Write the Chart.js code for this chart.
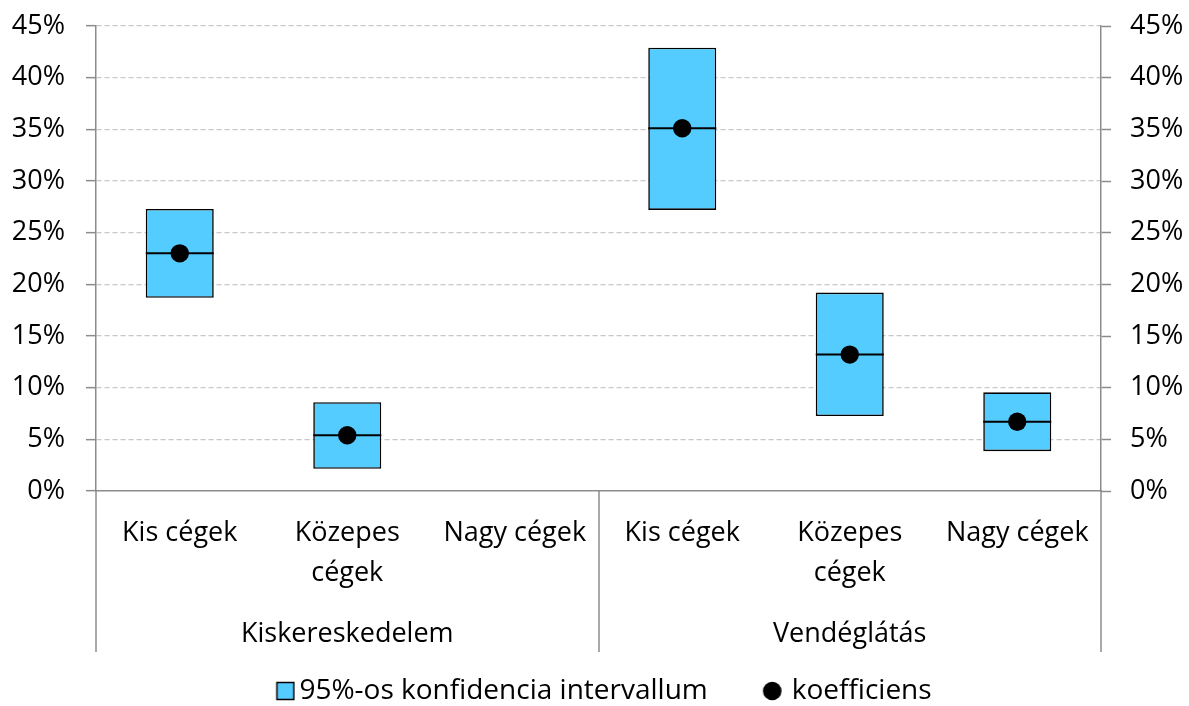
<!DOCTYPE html>
<html>
<head>
<meta charset="utf-8">
<script src="https://cdn.jsdelivr.net/npm/chart.js@4/dist/chart.umd.min.js"></script>
<style>
html,body{margin:0;padding:0;background:#fff;}
#wrap{width:1189px;height:706px;position:relative;}
</style>
</head>
<body>
<div id="wrap"><canvas id="c" width="1189" height="706"></canvas></div>
<script>
const categories = [["Kis cégek"], ["Közepes", "cégek"], ["Nagy cégek"], ["Kis cégek"], ["Közepes", "cégek"], ["Nagy cégek"]];
const groups = ["Kiskereskedelem", "Vendéglátás"];
const ciLow  = [18.7, 2.15, null, 27.2, 7.25, 3.85];
const ciHigh = [27.3, 8.6,  null, 42.9, 19.2, 9.55];
const coef   = [23.0, 5.4,  null, 35.1, 13.2, 6.7];
const yTicks = [0, 5, 10, 15, 20, 25, 30, 35, 40, 45];
const seriesNames = ["95%-os konfidencia intervallum", "koefficiens"];

const FONT = "'Open Sans', sans-serif";
const AXIS = '#8c8c8c';
const FILL = '#55CCFF';

const ranges = ciLow.map((l, i) => (l === null ? null : [l, ciHigh[i]]));

// legend markers (drawn offset inside wider images to match spacing)
const dot = document.createElement('canvas');
dot.width = 54; dot.height = 20;
(function(){ const g = dot.getContext('2d'); g.fillStyle = '#000'; g.beginPath(); g.arc(43.5, 10, 9.3, 0, Math.PI*2); g.fill(); })();
const sq = document.createElement('canvas');
sq.width = 64; sq.height = 20;
(function(){ const g = sq.getContext('2d'); g.fillStyle = FILL; g.fillRect(45.5,1.5,17,17); g.strokeStyle = '#000'; g.lineWidth = 1.5; g.strokeRect(45.5,1.5,17,17); })();

const groupLines = {
  id: 'groupLines',
  afterDraw(chart) {
    const x = chart.scales.x, x2 = chart.scales.x2, ctx = chart.ctx;
    const n = categories.length, per = n / groups.length;
    const xs = [x.left, x.right];
    for (let g = 1; g < groups.length; g++) {
      xs.push((x.getPixelForValue(g*per - 1) + x.getPixelForValue(g*per)) / 2);
    }
    ctx.save();
    ctx.strokeStyle = AXIS; ctx.lineWidth = 1.5;
    xs.forEach(px => {
      const p = Math.round(px);
      ctx.beginPath(); ctx.moveTo(p, chart.chartArea.bottom); ctx.lineTo(p, x2.top + 60); ctx.stroke();
    });
    ctx.restore();
  }
};

function noPad(s) { s.paddingTop = 0; s.paddingBottom = 0; s.paddingLeft = 0; s.paddingRight = 0; }

new Chart(document.getElementById('c'), {
  data: {
    labels: categories,
    datasets: [
      {
        type: 'bar', label: seriesNames[0], data: ranges,
        backgroundColor: FILL, borderColor: '#000', borderWidth: 1.6, borderSkipped: false,
        barPercentage: 0.406, categoryPercentage: 1, order: 3
      },
      {
        type: 'line', label: 'mid', data: coef, showLine: false,
        pointStyle: 'line', pointRadius: 34, pointBorderWidth: 2, borderColor: '#000',
        pointHoverRadius: 34, order: 2
      },
      {
        type: 'line', label: seriesNames[1], data: coef, showLine: false,
        pointStyle: 'circle', pointRadius: 9.2, backgroundColor: '#000', borderColor: '#000',
        pointBorderWidth: 0, order: 1
      }
    ]
  },
  options: {
    responsive: false, animation: false,
    layout: { autoPadding: false, padding: { top: 26, left: -16, right: 0, bottom: -9 } },
    plugins: {
      tooltip: { enabled: false },
      legend: {
        position: 'bottom',
        labels: {
          font: { family: FONT, size: 28 }, color: '#000',
          usePointStyle: true, pointStyleWidth: 44, boxHeight: 20, padding: 26,
          generateLabels: () => [
            { text: seriesNames[0], pointStyle: sq, fillStyle: FILL, strokeStyle: '#000', lineWidth: 0, datasetIndex: 0, hidden: false },
            { text: seriesNames[1], pointStyle: dot, fillStyle: '#000', strokeStyle: '#000', lineWidth: 0, datasetIndex: 2, hidden: false }
          ]
        }
      }
    },
    scales: {
      x: {
        type: 'category', offset: true,
        grid: { display: false, drawTicks: false },
        border: { display: true, color: AXIS, width: 1.5 },
        ticks: { font: { family: FONT, size: 27, lineHeight: 1.48 }, color: '#000', padding: 22, maxRotation: 0, autoSkip: false },
        afterFit(s) { s.height = 101; noPad(s); }
      },
      x2: {
        type: 'category', labels: groups, offset: true, position: 'bottom',
        grid: { display: false, drawTicks: false },
        border: { display: false },
        ticks: { font: { family: FONT, size: 27, lineHeight: 1.48 }, color: '#000', padding: 22, maxRotation: 0 },
        afterFit(s) { s.height = 59; noPad(s); }
      },
      y: {
        position: 'left', min: 0, max: 45,
        afterBuildTicks(s) { s.ticks = yTicks.map(v => ({ value: v })); },
        grid: {
          color: ctx => (ctx.tick && ctx.tick.value === 0 ? 'rgba(0,0,0,0)' : '#c8c8c8'),
          lineWidth: 1.3, tickLength: 10, tickColor: AXIS, tickWidth: 1.5
        },
        border: { display: true, color: AXIS, width: 1.5, dash: [5, 3] },
        ticks: { font: { family: FONT, size: 27 }, color: '#000', padding: 21, callback: v => v + '%' },
        afterFit(s) { s.width = 112; noPad(s); }
      },
      y2: {
        position: 'right', min: 0, max: 45,
        afterBuildTicks(s) { s.ticks = yTicks.map(v => ({ value: v })); },
        grid: { drawOnChartArea: false, tickLength: 10, tickColor: AXIS, tickWidth: 1.5 },
        border: { display: true, color: AXIS, width: 1.5 },
        ticks: { font: { family: FONT, size: 27 }, color: '#000', padding: 19, callback: v => v + '%' },
        afterFit(s) { s.width = 88; noPad(s); }
      }
    }
  },
  plugins: [groupLines]
});
</script>
</body>
</html>
